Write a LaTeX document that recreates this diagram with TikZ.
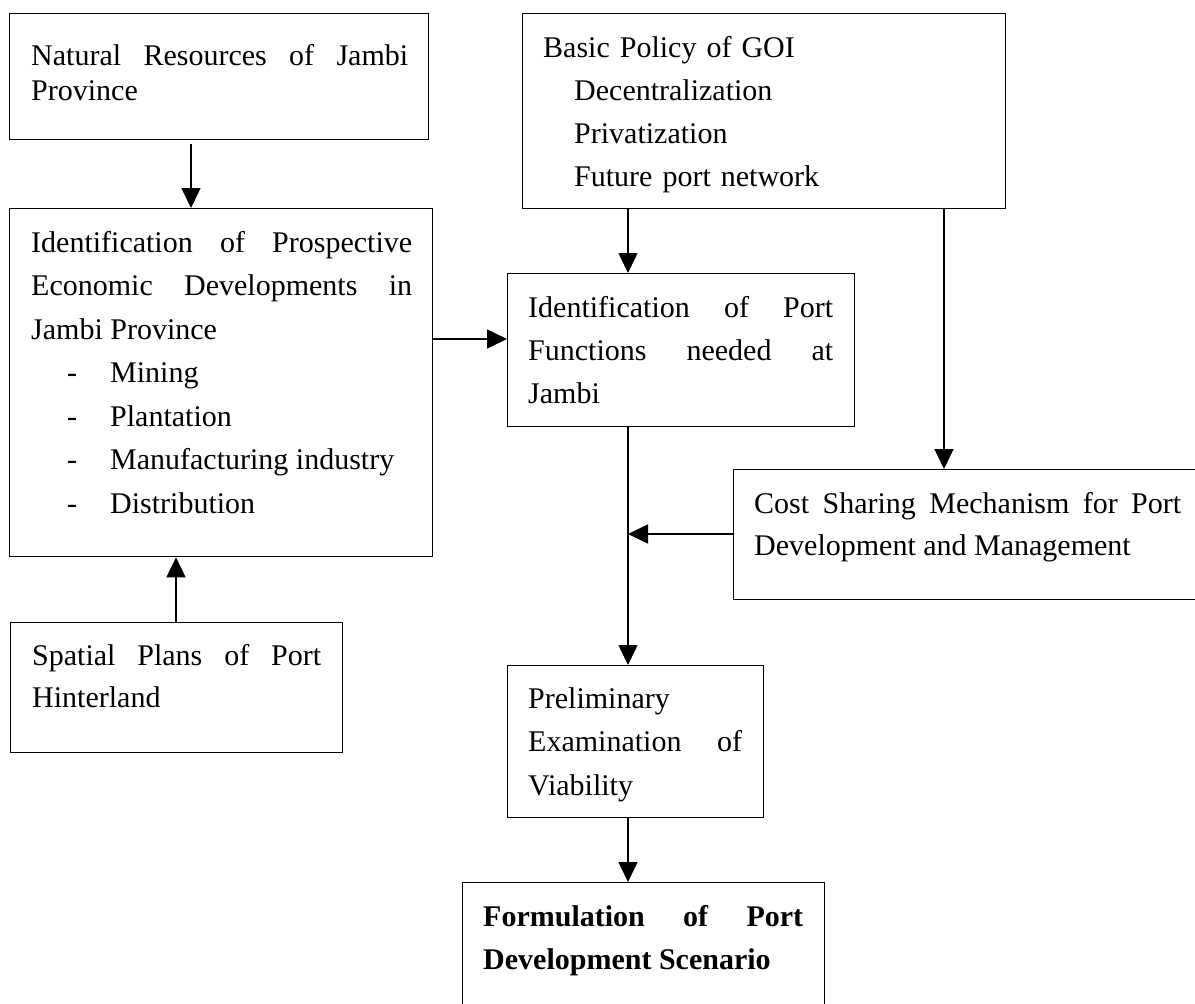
\documentclass[tikz,border=0pt]{standalone}
\usepackage{fontspec}
\setmainfont{Liberation Serif}
\usetikzlibrary{arrows.meta}
\begin{document}
\begin{tikzpicture}[x=1pt,y=-1pt,
  box/.style={draw,line width=1.3pt,inner sep=0pt,anchor=north west},
  txt/.style={inner sep=0pt,anchor=base west,align=justify},
  arr/.style={line width=1.5pt,-{Triangle[length=20pt,width=19pt]}},
  ln/.style={line width=1.5pt}]
\useasboundingbox (0,0) rectangle (1195,1004);
% boxes
\node[box,minimum width=419pt,minimum height=126pt] (b1) at (9,13) {};
\node[box,minimum width=423pt,minimum height=348pt] (b2) at (9,208) {};
\node[box,minimum width=483pt,minimum height=195pt] (bp) at (522,13) {};
\node[box,minimum width=347pt,minimum height=153pt] (b3) at (507,273) {};
\node[box,minimum width=466pt,minimum height=130pt] (cs) at (733,469) {};
\node[box,minimum width=332pt,minimum height=130pt] (sp) at (10,622) {};
\node[box,minimum width=256pt,minimum height=152pt] (pe) at (507,665) {};
\node[box,minimum width=362pt,minimum height=135pt] (fs) at (462,882) {};
% texts
\node[txt,text width=377pt,font=\fontsize{30pt}{35pt}\selectfont] (t1) at (31,65)
  {Natural Resources of Jambi\linebreak Province};
\node[txt,text width=381pt,font=\fontsize{30pt}{43.5pt}\selectfont] (t2) at (31,252)
  {Identification of Prospective\linebreak Economic Developments in\linebreak Jambi Province\\
   \hspace*{36pt}\makebox[43pt][l]{-}Mining\\
   \hspace*{36pt}\makebox[43pt][l]{-}Plantation\\
   \hspace*{36pt}\makebox[43pt][l]{-}Manufacturing industry\\
   \hspace*{36pt}\makebox[43pt][l]{-}Distribution};
\node[txt,text width=440pt,align=left,font=\fontsize{30pt}{43.3pt}\selectfont] (tp) at (543,57)
  {Basic Policy of GOI\\
   \hspace*{31pt}Decentralization\\
   \hspace*{31pt}Privatization\\
   \hspace*{31pt}Future port network};
\node[txt,text width=305pt,font=\fontsize{30pt}{43pt}\selectfont] (t3) at (528,317)
  {Identification of Port\linebreak Functions needed at\linebreak Jambi};
\node[txt,text width=427pt,font=\fontsize{30pt}{42pt}\selectfont] (tc) at (754,513)
  {Cost Sharing Mechanism for Port\linebreak Development and Management};
\node[txt,text width=289pt,font=\fontsize{30pt}{42pt}\selectfont] (ts) at (32,665)
  {Spatial Plans of Port\linebreak Hinterland};
\node[txt,text width=214pt,font=\fontsize{30pt}{43.5pt}\selectfont] (te) at (528,708)
  {Preliminary\\ Examination of\linebreak Viability};
\node[txt,text width=320pt,font=\fontsize{30pt}{43pt}\selectfont\bfseries] (tf) at (483,926)
  {Formulation of Port\linebreak Development Scenario};
% connectors
\draw[arr] ([xshift=182pt,yshift=-4pt]b1.south west) coordinate (s1) -- (s1 |- b2.north);
\draw[arr] ([yshift=-131pt]b2.north east) coordinate (s2) -- (s2 -| b3.west);
\draw[arr] ([xshift=106pt]bp.south west) coordinate (s3) -- (s3 |- b3.north);
\draw[arr] ([xshift=422pt]bp.south west) coordinate (s4) -- (s4 |- cs.north);
\draw[arr] ([xshift=166pt]sp.north west) coordinate (s5) -- (s5 |- b2.south);
\draw[arr] ([xshift=121pt]b3.south west) coordinate (j) -- (j |- pe.north);
\draw[arr] ([yshift=-65pt]cs.north west) coordinate (s6) -- (s6 -| j);
\draw[arr] ([xshift=121pt]pe.south west) coordinate (s7) -- (s7 |- fs.north);
\end{tikzpicture}
\end{document}
